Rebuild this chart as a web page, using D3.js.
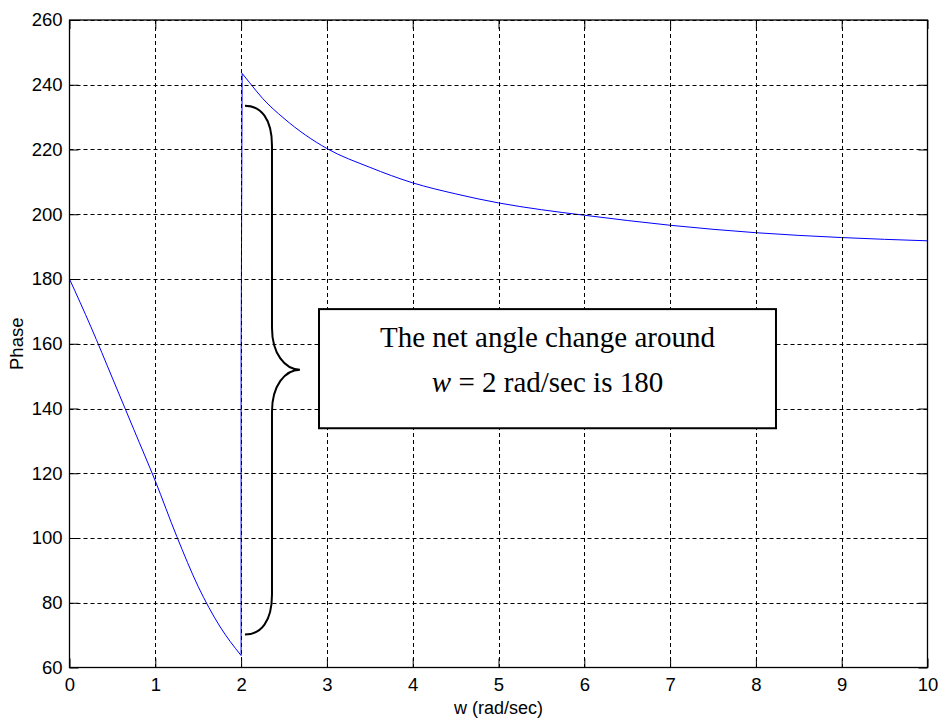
<!DOCTYPE html>
<html>
<head>
<meta charset="utf-8">
<script src="https://cdn.jsdelivr.net/npm/d3@7"></script>
<style>
  html, body { margin: 0; padding: 0; background: #fff; }
  svg { display: block; }
</style>
</head>
<body>
<svg id="chart" width="938" height="722"></svg>
<script>
// ---- data ----
const xTicks = [0, 1, 2, 3, 4, 5, 6, 7, 8, 9, 10];
const yTicks = [60, 80, 100, 120, 140, 160, 180, 200, 220, 240, 260];
const leftW     = [0, 0.25, 0.5, 0.75, 1.0, 1.25, 1.5, 1.75, 2.0];
const leftPhase = [180, 165.2, 149.4, 133.5, 117.6, 100.5, 85, 72.8, 63.7];
const jumpW     = [2.0];
const jumpPhase = [153.7];
const rightW     = [2.012, 2.1, 2.25, 2.5, 3, 3.5, 4, 4.5, 5, 5.5, 6, 7, 8, 9, 10];
const rightPhase = [243.5, 240.6, 235.8, 229.6, 220.3, 214.5, 209.7, 206.3, 203.5, 201.4, 199.7, 196.6, 194.3, 192.8, 191.8];
const xLabel = "w (rad/sec)";
const yLabel = "Phase";
const noteLine1 = "The net angle change around";
const noteLine2 = " = 2 rad/sec is 180"; // preceded by italic w
const noteVar = "w";
// brace annotation (data units)
const braceTop = 233.5, braceBottom = 70.2, braceMid = 152;
const braceX0 = 2.045, braceX1 = 2.36, braceTip = 2.686;
// note box (data units)
const boxX = [2.908, 8.234], boxY = [133.9, 170.7];

// ---- layout ----
const svg = d3.select("#chart");
const L = 69.5, R = 927.5, T = 20, B = 667.5;
const x = d3.scaleLinear().domain([0, 10]).range([L, R]);
const y = d3.scaleLinear().domain([60, 260]).range([B, T]);
const font = "'Liberation Sans', Arial, Helvetica, sans-serif";

svg.append("rect").attr("width", 938).attr("height", 722).attr("fill", "#fff");

// data line
const leftPts = leftW.map((w, i) => [w, leftPhase[i]]);
const jumpPts = jumpW.map((w, i) => [w, jumpPhase[i]]);
const rightPts = rightW.map((w, i) => [w, rightPhase[i]]);
const smooth = d3.line().x(d => x(d[0])).y(d => y(d[1])).curve(d3.curveMonotoneX);
const straight = d3.line().x(d => x(d[0])).y(d => y(d[1]));
const blue = g => g.attr("fill", "none").attr("stroke", "#0000ff").attr("stroke-width", 1);
svg.append("path").attr("d", smooth(leftPts)).call(blue);
svg.append("path").attr("d", straight([leftPts[leftPts.length - 1], jumpPts[0], rightPts[0]])).call(blue);
svg.append("path").attr("d", smooth(rightPts)).call(blue);

// grid (drawn on top, like the reference)
const grid = svg.append("g").attr("stroke", "#000").attr("stroke-width", 1)
  .attr("stroke-dasharray", "4,3").attr("fill", "none");
xTicks.slice(1, -1).forEach(t => {
  grid.append("line").attr("x1", Math.round(x(t)) + 0.5).attr("x2", Math.round(x(t)) + 0.5)
    .attr("y1", T).attr("y2", B);
});
yTicks.slice(1).forEach(t => {
  grid.append("line").attr("y1", Math.round(y(t)) + 0.5).attr("y2", Math.round(y(t)) + 0.5)
    .attr("x1", L).attr("x2", R);
});

// axes with inward ticks
const tickLen = 9;
const gx = svg.append("g").attr("transform", `translate(0,${B})`)
  .call(d3.axisBottom(x).tickValues(xTicks).tickSizeInner(-tickLen).tickSizeOuter(0).tickPadding(10).tickFormat(d3.format("d")));
const gxTop = svg.append("g").attr("transform", `translate(0,${T})`)
  .call(d3.axisTop(x).tickValues(xTicks).tickSizeInner(-tickLen).tickSizeOuter(0).tickFormat(""));
const gy = svg.append("g").attr("transform", `translate(${L},0)`)
  .call(d3.axisLeft(y).tickValues(yTicks).tickSizeInner(-tickLen).tickSizeOuter(0).tickPadding(7).tickFormat(d3.format("d")));
const gyR = svg.append("g").attr("transform", `translate(${R},0)`)
  .call(d3.axisRight(y).tickValues(yTicks).tickSizeInner(-tickLen).tickSizeOuter(0).tickFormat(""));
[gx, gxTop, gy, gyR].forEach(g => {
  g.select(".domain").remove();
  g.selectAll(".tick line").attr("stroke", "#000").attr("stroke-width", 1);
  g.selectAll("text").attr("fill", "#000").style("font-family", font).style("font-size", "18.5px");
});
gx.selectAll("text").attr("dy", "0.71em");

// box
svg.append("rect").attr("x", L).attr("y", T).attr("width", R - L).attr("height", B - T)
  .attr("fill", "none").attr("stroke", "#000").attr("stroke-width", 1.3);

// labels
svg.append("text").attr("x", (L + R) / 2).attr("y", 714).attr("text-anchor", "middle")
  .style("font-family", font).style("font-size", "18px").text(xLabel);
svg.append("text").attr("transform", `translate(23,${(T + B) / 2}) rotate(-90)`).attr("text-anchor", "middle")
  .style("font-family", font).style("font-size", "18.5px").text(yLabel);

// brace
const bx0 = x(braceX0), bx1 = x(braceX1), bt = x(braceTip);
const yTop = y(braceTop), yBot = y(braceBottom), yMid = y(braceMid);
const bp = d3.path();
bp.moveTo(bx0, yTop);
bp.bezierCurveTo(bx0 + 16, yTop, bx1, yTop + 13, bx1, yTop + 40);
bp.lineTo(bx1, yMid - 42);
bp.bezierCurveTo(bx1, yMid - 16, bx1 + 13, yMid, bt, yMid);
bp.bezierCurveTo(bx1 + 13, yMid, bx1, yMid + 16, bx1, yMid + 42);
bp.lineTo(bx1, yBot - 40);
bp.bezierCurveTo(bx1, yBot - 13, bx0 + 16, yBot, bx0, yBot);
svg.append("path").attr("d", bp.toString()).attr("fill", "none")
  .attr("stroke", "#000").attr("stroke-width", 2);

// note box
const nx0 = x(boxX[0]), nx1 = x(boxX[1]), ny0 = y(boxY[1]), ny1 = y(boxY[0]);
svg.append("rect").attr("x", nx0).attr("y", ny0).attr("width", nx1 - nx0).attr("height", ny1 - ny0)
  .attr("fill", "#fff").attr("stroke", "#000").attr("stroke-width", 2);
const serif = "'Liberation Serif', 'Times New Roman', Times, serif";
const cx = (nx0 + nx1) / 2;
svg.append("text").attr("x", cx).attr("y", ny0 + 38).attr("text-anchor", "middle")
  .style("font-family", serif).style("font-size", "29px").text(noteLine1);
const t2 = svg.append("text").attr("x", cx).attr("y", ny0 + 83).attr("text-anchor", "middle")
  .style("font-family", serif).style("font-size", "29px");
t2.append("tspan").style("font-style", "italic").text(noteVar);
t2.append("tspan").text(noteLine2);
</script>
</body>
</html>
